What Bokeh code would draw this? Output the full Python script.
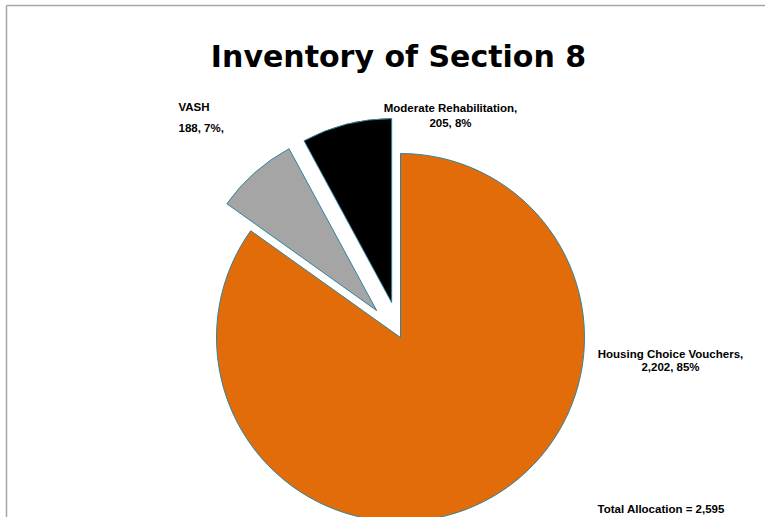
import math
from bokeh.plotting import figure
from bokeh.models import Range1d, ColumnDataSource
from bokeh.core.properties import value
from bokeh.embed import file_html
from bokeh.resources import INLINE

# ---- data ----
categories = ["Housing Choice Vouchers", "VASH", "Moderate Rehabilitation"]
units = [2202, 188, 205]
colors = ["#E36C0A", "#A5A5A5", "#000000"]
explode = [0, 36, 36]
title_text = "Inventory of Section 8"

total = sum(units)
pcts = [round(v / total * 100) for v in units]

# ---- figure: data units == pixels (x), y flipped ----
W, H = 765, 517
p = figure(width=W, height=H, x_range=Range1d(0, W), y_range=Range1d(0, H),
           output_backend="svg", toolbar_location=None,
           min_border=0, min_border_left=0, min_border_right=0,
           min_border_top=0, min_border_bottom=0)
p.xaxis.visible = False
p.yaxis.visible = False
p.xgrid.visible = False
p.ygrid.visible = False
p.outline_line_color = None
p.background_fill_color = "white"
p.border_fill_color = "white"


def Y(ry):
    return H - ry


TFONT = value("DejaVu Sans")
LFONT = value("Liberation Sans")

# frame border (top and left)
p.line([6, 6], [Y(H + 5), Y(5)], line_color="#A6A6A6", line_width=1.5)
p.line([6, W + 5], [Y(5), Y(5)], line_color="#A6A6A6", line_width=1.5)

# ---- pie ----
cx, cy, r = 400, Y(337), 184
starts, ends, xs, ys = [], [], [], []
cum = 0.0
for v, e in zip(units, explode):
    a0 = math.pi / 2 - 2 * math.pi * cum / total
    cum += v
    a1 = math.pi / 2 - 2 * math.pi * cum / total
    mid = (a0 + a1) / 2
    starts.append(a0)
    ends.append(a1)
    xs.append(cx + e * math.cos(mid))
    ys.append(cy + e * math.sin(mid))

src = ColumnDataSource(dict(x=xs, y=ys, start=starts, end=ends, color=colors))
p.wedge(x="x", y="y", radius=r, start_angle="start", end_angle="end",
        direction="clock", fill_color="color", line_color="#31849B",
        line_width=1, source=src)

# ---- title ----
p.text(x=[398], y=[Y(56)], text=[title_text], text_font=TFONT,
       text_font_style="bold", text_font_size="30px", text_align="center",
       text_baseline="middle", text_color="#000000")

# ---- labels ----
lab_font = "11.5px"
label_lines = [
    (f"{categories[0]},", 670, 353, "center"),
    (f"{units[0]:,}, {pcts[0]}%", 670, 366, "center"),
    (f"{categories[1]}", 178, 106, "left"),
    (f"{units[1]:,}, {pcts[1]}%,", 178, 127, "left"),
    (f"{categories[2]},", 450, 107, "center"),
    (f"{units[2]:,}, {pcts[2]}%", 450, 122, "center"),
    (f"Total Allocation = {total:,}", 597, 508, "left"),
]
for t, lx, ly, al in label_lines:
    p.text(x=[lx], y=[Y(ly)], text=[t], text_font=LFONT, text_font_style="bold",
           text_font_size=lab_font, text_align=al, text_baseline="middle",
           text_color="#000000")

open("out.html", "w").write(file_html(p, INLINE))
